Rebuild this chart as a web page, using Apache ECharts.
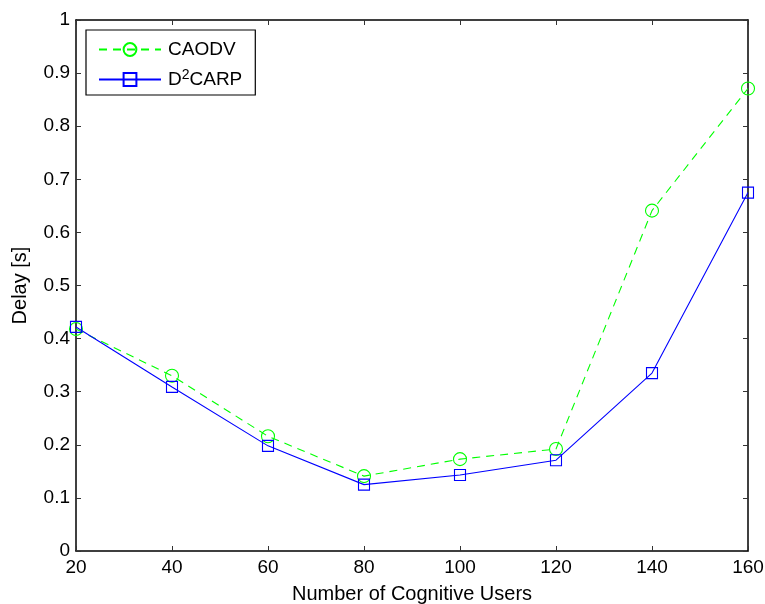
<!DOCTYPE html>
<html><head><meta charset="utf-8">
<script src="https://cdn.jsdelivr.net/npm/echarts@6/dist/echarts.min.js"></script>
<style>html,body{margin:0;padding:0;background:#fff}#c{width:765px;height:604px}</style>
</head><body><div id="c"></div>
<script>
const users = [20, 40, 60, 80, 100, 120, 140, 160];
const caodv = [0.418, 0.330, 0.216, 0.141, 0.173, 0.192, 0.641, 0.871];
const d2carp = [0.422, 0.309, 0.198, 0.125, 0.143, 0.171, 0.335, 0.675];
const xTicks = [20, 40, 60, 80, 100, 120, 140, 160];
const yTicks = [0, 0.1, 0.2, 0.3, 0.4, 0.5, 0.6, 0.7, 0.8, 0.9, 1];

const font = 'Liberation Sans, Arial, Helvetica, sans-serif';
const chart = echarts.init(document.getElementById('c'), null, {renderer: 'canvas'});
const axisLine = {show: true, onZero: false, lineStyle: {color: '#000', width: 1.5}};
const tick = {show: true, inside: true, length: 5, lineStyle: {color: '#333', width: 1}};
const fmtY = v => { const r = Math.round(v * 10) / 10; return yTicks.includes(r) ? String(r) : ''; };
chart.setOption({
  animation: false,
  backgroundColor: '#fff',
  grid: {left: 76, right: 17, top: 20, bottom: 53, containLabel: false, outerBoundsMode: 'none'},
  legend: {
    left: 86, top: 30, orient: 'vertical',
    backgroundColor: '#fff', borderColor: '#000', borderWidth: 1.2,
    padding: [10, 13, 6, 12], itemGap: 9, itemWidth: 62, itemHeight: 16,
    textStyle: {fontFamily: font, fontSize: 19, color: '#000',
      rich: {a: {fontFamily: font, fontSize: 19, color: '#000', padding: [0, 0, 0, 2]},
             b: {fontFamily: font, fontSize: 19, color: '#000'},
             s: {fontFamily: font, fontSize: 14, color: '#000', verticalAlign: 'top', padding: [0, 0, 9, 0]}}},
    formatter: n => n === 'D2CARP' ? '{a|D}{s|2}{b|CARP}' : '{a|' + n + '}',
    data: ['CAODV', 'D2CARP']
  },
  xAxis: [{
    type: 'value', min: 20, max: 160, interval: 20, position: 'bottom',
    name: 'Number of Cognitive Users', nameLocation: 'middle', nameGap: 33,
    nameTextStyle: {fontFamily: font, fontSize: 20, color: '#000'},
    axisLine: axisLine, axisTick: tick, splitLine: {show: false},
    axisLabel: {fontFamily: font, fontSize: 19, color: '#000', margin: 7,
      formatter: v => xTicks.includes(v) ? String(v) : ''}
  }, {
    type: 'value', min: 20, max: 160, interval: 20, position: 'top',
    axisLine: axisLine, axisTick: tick, axisLabel: {show: false}, splitLine: {show: false}
  }],
  yAxis: [{
    type: 'value', min: 0, max: 1, interval: 0.1, position: 'left',
    name: 'Delay [s]', nameLocation: 'middle', nameGap: 46, nameRotate: 90,
    nameTextStyle: {fontFamily: font, fontSize: 20, color: '#000'},
    axisLine: axisLine, axisTick: tick, splitLine: {show: false},
    axisLabel: {fontFamily: font, fontSize: 19, color: '#000', margin: 6, formatter: fmtY}
  }, {
    type: 'value', min: 0, max: 1, interval: 0.1, position: 'right',
    axisLine: axisLine, axisTick: tick, axisLabel: {show: false}, splitLine: {show: false}
  }],
  series: [{
    name: 'CAODV', type: 'line',
    data: users.map((u, i) => [u, caodv[i]]),
    symbol: 'circle', symbolSize: 13,
    lineStyle: {color: '#00ff00', width: 1.1, type: [8, 6]},
    itemStyle: {color: 'rgba(255,255,255,0)', borderColor: '#00ff00', borderWidth: 1.1},
    z: 3
  }, {
    name: 'D2CARP', type: 'line',
    data: users.map((u, i) => [u, d2carp[i]]),
    symbol: 'rect', symbolSize: 11,
    lineStyle: {color: '#0000ff', width: 1.1},
    itemStyle: {color: 'rgba(255,255,255,0)', borderColor: '#0000ff', borderWidth: 1.1},
    z: 4
  }]
});
</script></body></html>
